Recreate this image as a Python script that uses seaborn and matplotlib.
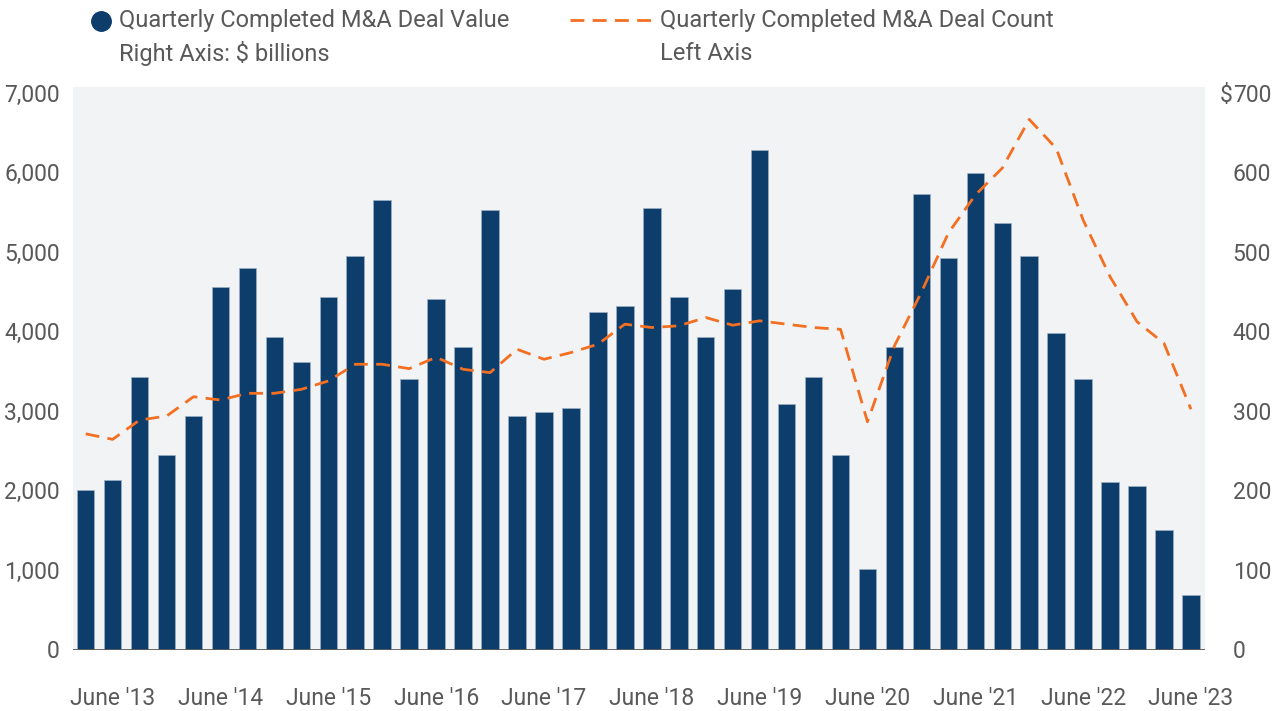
import numpy as np
import pandas as pd
import matplotlib
matplotlib.use("Agg")
import matplotlib.pyplot as plt
import seaborn as sns
from matplotlib.lines import Line2D

# ---------------- data ----------------
months = ["Mar", "June", "Sept", "Dec"]
quarters = [f"{m} '{y:02d}" for y in range(13, 24) for m in months][:42]  # Mar '13 .. June '23

deal_value_bn = [201, 213, 343, 244, 294, 455, 479, 393, 361, 443,
                 495, 565, 340, 440, 380, 552, 293, 299, 304, 424,
                 432, 555, 443, 393, 453, 628, 309, 343, 244, 101,
                 380, 573, 492, 599, 536, 495, 398, 340, 210, 205,
                 150, 69]

deal_count = [2711, 2641, 2884, 2934, 3177, 3136, 3220, 3220, 3270, 3375,
              3585, 3585, 3530, 3673, 3522, 3480, 3774, 3648, 3732, 3837,
              4089, 4047, 4068, 4173, 4076, 4131, 4089, 4047, 4024, 2863,
              3816, 4490, 5234, 5712, 6051, 6663, 6299, 5398, 4685, 4120,
              3848, 3020]

tick_labels = ["June '13", "June '14", "June '15", "June '16", "June '17", "June '18",
               "June '19", "June '20", "June '21", "June '22", "June '23"]
left_ticks = [0, 1000, 2000, 3000, 4000, 5000, 6000, 7000]
right_ticks = [0, 100, 200, 300, 400, 500, 600, 700]

legend_value = ["Quarterly Completed M&A Deal Value", "Right Axis: $ billions"]
legend_count = ["Quarterly Completed M&A Deal Count", "Left Axis"]

# ---------------- style ----------------
NAVY = "#0c3d6b"
ORANGE = "#f36f21"
GRAY = "#595959"
BG = "#f2f3f5"

sns.set_theme(style="white")
plt.rcParams["font.family"] = ["Roboto", "DejaVu Sans"]

W, H = 1284, 711
fig = plt.figure(figsize=(W / 100, H / 100), dpi=100)
fig.patch.set_facecolor("white")

left, right, top, bottom = 73, 1205, 87, 649.5
ax = fig.add_axes([left / W, 1 - bottom / H, (right - left) / W, (bottom - top) / H])
ax.set_facecolor(BG)

df = pd.DataFrame({"quarter": quarters, "value": deal_value_bn,
                   "count": deal_count, "pos": np.arange(len(quarters))})

sns.barplot(data=df, x="quarter", y="value", order=quarters, color=NAVY,
            saturation=1, width=0.65, edgecolor="#9db0c4", linewidth=0.5, ax=ax)

ax2 = ax.twinx()
sns.lineplot(data=df, x="pos", y="count", ax=ax2, color=ORANGE, linewidth=2.0,
             linestyle=(0, (5, 3)))

ax.set_xlim(-0.47, 41.52)
ax.set_ylim(0, 707)
ax2.set_ylim(0, 7070)

# axes sides: bars -> right axis, line -> left axis
ax.yaxis.tick_right()
ax2.yaxis.tick_left()

ax.set_yticks(right_ticks)
ax.set_yticklabels([str(v) for v in right_ticks])
ax2.set_yticks(left_ticks)
ax2.set_yticklabels([f"{v:,}" for v in left_ticks])

june_pos = [quarters.index(t) for t in tick_labels]
ax.set_xticks(june_pos)
ax.set_xticklabels(tick_labels)

FS = 16.5
ax.tick_params(axis="x", length=0, pad=27, labelsize=FS, labelcolor=GRAY)
ax.tick_params(axis="y", length=0, pad=20, labelsize=FS, labelcolor=GRAY,
               left=False, labelleft=False, right=False, labelright=True)
ax2.tick_params(axis="y", length=0, pad=9.5, labelsize=FS, labelcolor=GRAY,
                left=False, labelleft=True, right=False, labelright=False)

for a in (ax, ax2):
    a.set_xlabel("")
    a.set_ylabel("")
    for s in a.spines.values():
        s.set_visible(False)

ax.axhline(0, color="#5c5c5c", linewidth=1.3, zorder=5)

# "$" hanging before the top right-axis label
ax.annotate("$", xy=(1, 700), xycoords=("axes fraction", "data"),
            xytext=(20, 0), textcoords="offset points", ha="right",
            va="center_baseline", fontsize=FS, color=GRAY)

# ---------------- legend ----------------
LFS = 17
fig.add_artist(Line2D([101 / W], [1 - 21 / H], marker="o", markersize=14,
                      color=NAVY, linestyle="none", transform=fig.transFigure))
fig.text(119 / W, 1 - 20 / H, legend_value[0], fontsize=LFS, color=GRAY, va="center", ha="left")
fig.text(119 / W, 1 - 53 / H, legend_value[1], fontsize=LFS, color=GRAY, va="center", ha="left")

fig.add_artist(Line2D([570 / W, 651 / W], [1 - 20 / H, 1 - 20 / H], color=ORANGE,
                      linewidth=2.0, linestyle=(0, (5, 3)), transform=fig.transFigure))
fig.text(660 / W, 1 - 20 / H, legend_count[0], fontsize=LFS, color=GRAY, va="center", ha="left")
fig.text(660 / W, 1 - 53 / H, legend_count[1], fontsize=LFS, color=GRAY, va="center", ha="left")

fig.savefig("out.png", dpi=100, facecolor="white")
